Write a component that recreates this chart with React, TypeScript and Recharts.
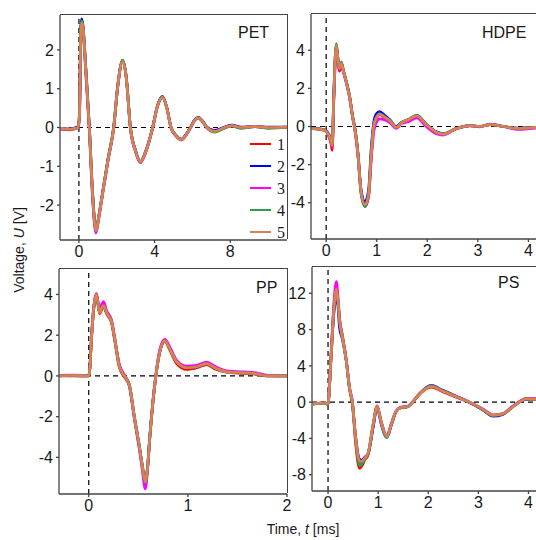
import React from "react";
import { LineChart, Line, XAxis, YAxis, ReferenceLine } from "recharts";

const seriesNames = ["1", "2", "3", "4", "5"];
const seriesColors = ["#ff0000", "#0000ff", "#ff00ff", "#2e9d4b", "#d9814f"];

// PET, time axis in ms
const petT = [-1, -0.5, -0.05, 0.03, 0.1, 0.15, 0.22, 0.35, 0.55, 0.72, 0.9, 1.05, 1.3, 1.55, 1.84, 2.05, 2.31, 2.5, 2.72, 3.0, 3.25, 3.55, 3.9, 4.15, 4.42, 4.65, 4.87, 5.15, 5.42, 5.65, 5.9, 6.1, 6.32, 6.55, 6.76, 7.17, 7.6, 8.05, 8.6, 9.3, 10, 11];
const pet1 = [-0.03, -0.05, 0.0, 0.3, 2.5, 2.72, 2.55, 1.6, 0, -1.7, -2.68, -2.3, -1.55, -0.8, 0, 1.05, 1.72, 1.3, 0, -0.62, -0.9, -0.6, 0, 0.55, 0.78, 0.5, 0, -0.22, -0.32, -0.2, 0, 0.18, 0.25, 0.15, 0, -0.1, -0.02, 0.05, 0.0, 0.03, 0.0, 0.01];
const pet2 = [-0.02, -0.04, 0.02, 0.4, 2.6, 2.8, 2.6, 1.65, 0.05, -1.65, -2.65, -2.28, -1.52, -0.78, 0.02, 1.07, 1.73, 1.32, 0.02, -0.6, -0.87, -0.58, 0.01, 0.56, 0.8, 0.51, 0.01, -0.21, -0.3, -0.19, 0.01, 0.19, 0.26, 0.16, 0.01, -0.08, -0.01, 0.06, 0.01, 0.03, 0.01, 0.01];
const pet3 = [-0.04, -0.06, -0.01, 0.2, 2.3, 2.6, 2.5, 1.5, -0.1, -1.8, -2.72, -2.35, -1.58, -0.83, -0.02, 1.03, 1.7, 1.28, -0.02, -0.64, -0.9, -0.62, -0.02, 0.53, 0.77, 0.49, -0.02, -0.23, -0.32, -0.21, -0.01, 0.17, 0.24, 0.14, -0.01, -0.11, -0.03, 0.04, -0.01, 0.02, -0.01, 0.0];
const pet4 = [-0.02, -0.05, 0.0, 0.35, 2.55, 2.75, 2.58, 1.62, 0.02, -1.68, -2.66, -2.3, -1.54, -0.79, 0.01, 1.06, 1.74, 1.31, 0.01, -0.61, -0.88, -0.6, 0.0, 0.55, 0.79, 0.5, 0.0, -0.22, -0.31, -0.2, 0.0, 0.18, 0.25, 0.15, 0.0, -0.12, -0.04, 0.04, -0.02, 0.02, -0.02, 0.0];
const pet5 = [-0.02, -0.04, 0.0, 0.3, 2.5, 2.7, 2.55, 1.6, 0, -1.7, -2.66, -2.3, -1.55, -0.8, 0, 1.05, 1.7, 1.3, 0, -0.62, -0.88, -0.6, 0, 0.55, 0.78, 0.5, 0, -0.22, -0.31, -0.2, 0, 0.18, 0.25, 0.15, 0, -0.1, -0.02, 0.05, 0.0, 0.03, 0.0, 0.01];

// HDPE
const hdT = [-0.3, -0.1, 0.0, 0.05, 0.1, 0.12, 0.15, 0.2, 0.23, 0.26, 0.3, 0.34, 0.41, 0.46, 0.53, 0.56, 0.63, 0.69, 0.77, 0.84, 0.89, 0.94, 0.99, 1.06, 1.15, 1.26, 1.39, 1.49, 1.62, 1.79, 1.98, 2.18, 2.31, 2.58, 2.84, 3.04, 3.24, 3.51, 3.77, 4.15];
const hd1 = [-0.1, -0.15, -0.25, -0.5, -0.95, -1.25, 1.3, 4.2, 3.5, 2.9, 3.25, 2.85, 2.2, 1.6, 0.4, 0, -1.5, -3.45, -4.12, -3.55, -1.55, -0.05, 0.42, 0.62, 0.48, 0.28, -0.05, 0.2, 0.35, 0.55, 0.1, -0.3, -0.4, -0.1, 0.05, 0.0, 0.1, 0.0, -0.1, -0.05];
const hd2 = [-0.1, -0.14, -0.22, -0.4, -0.75, -0.95, 1.6, 4.3, 3.6, 3.1, 3.35, 2.95, 2.25, 1.65, 0.45, 0.05, -1.4, -3.3, -3.95, -3.3, -1.2, 0.2, 0.65, 0.78, 0.6, 0.35, 0.0, 0.22, 0.35, 0.58, 0.12, -0.28, -0.38, -0.1, 0.05, 0.0, 0.1, 0.0, -0.08, -0.04];
const hd3 = [-0.1, -0.16, -0.26, -0.48, -0.85, -1.05, 1.4, 4.2, 3.55, 3.0, 3.3, 2.9, 2.15, 1.55, 0.35, -0.05, -1.6, -3.5, -4.2, -3.7, -1.8, -0.3, 0.2, 0.4, 0.35, 0.2, -0.1, 0.15, 0.25, 0.45, 0.0, -0.38, -0.45, -0.12, 0.03, -0.02, 0.12, 0.0, -0.15, -0.08];
const hd4 = [-0.1, -0.15, -0.24, -0.44, -0.78, -0.98, 1.55, 4.35, 3.65, 3.1, 3.38, 2.95, 2.2, 1.6, 0.4, 0, -1.5, -3.45, -4.2, -3.55, -1.5, 0.02, 0.45, 0.66, 0.52, 0.32, -0.04, 0.21, 0.36, 0.58, 0.12, -0.3, -0.4, -0.1, 0.05, 0.0, 0.1, 0.0, -0.1, -0.05];
const hd5 = [-0.1, -0.15, -0.25, -0.45, -0.8, -1.0, 1.5, 4.25, 3.6, 3.05, 3.3, 2.9, 2.2, 1.6, 0.4, 0, -1.5, -3.4, -4.1, -3.5, -1.5, 0, 0.45, 0.65, 0.5, 0.3, -0.05, 0.2, 0.35, 0.55, 0.1, -0.3, -0.4, -0.1, 0.05, 0.0, 0.1, 0.0, -0.1, -0.05];

// PP
const ppT = [-0.3, -0.15, 0, 0.01, 0.027, 0.05, 0.077, 0.095, 0.11, 0.13, 0.15, 0.18, 0.23, 0.26, 0.31, 0.36, 0.41, 0.46, 0.515, 0.54, 0.57, 0.595, 0.616, 0.645, 0.677, 0.717, 0.768, 0.82, 0.885, 0.99, 1.09, 1.19, 1.27, 1.39, 1.56, 1.69, 1.79, 2.0];
const pp1 = [0.02, 0.0, 0.01, 0.3, 1.75, 3.25, 3.95, 3.45, 3.05, 3.25, 3.4, 3.05, 2.6, 1.8, 0.4, -0.05, -0.5, -2.05, -3.65, -4.45, -5.3, -4.45, -3.05, -1.45, -0.05, 1.15, 1.7, 1.25, 0.62, 0.32, 0.4, 0.55, 0.35, 0.18, 0.12, 0.08, 0, 0];
const pp2 = [0, 0.01, 0, 0.32, 1.82, 3.32, 4.02, 3.52, 3.12, 3.32, 3.47, 3.12, 2.67, 1.87, 0.47, 0.02, -0.43, -1.98, -3.58, -4.38, -5.2, -4.38, -2.98, -1.38, 0.02, 1.22, 1.74, 1.32, 0.72, 0.42, 0.46, 0.62, 0.42, 0.22, 0.16, 0.1, 0.01, 0];
const pp3 = [0.03, 0.04, 0.02, 0.35, 1.9, 3.4, 4.05, 3.6, 3.2, 3.5, 3.65, 3.2, 2.75, 1.95, 0.55, 0.05, -0.5, -2.1, -3.75, -4.6, -5.55, -4.5, -3.0, -1.35, 0.05, 1.3, 1.8, 1.4, 0.78, 0.48, 0.52, 0.68, 0.48, 0.25, 0.2, 0.15, 0.04, 0.02];
const pp4 = [0, 0.02, 0, 0.3, 1.8, 3.28, 3.98, 3.5, 3.1, 3.3, 3.45, 3.1, 2.65, 1.85, 0.45, 0, -0.46, -2.02, -3.62, -4.42, -5.25, -4.42, -3.02, -1.42, 0, 1.2, 1.72, 1.3, 0.7, 0.4, 0.45, 0.6, 0.4, 0.2, 0.15, 0.1, 0, 0];
const pp5 = [0, 0.02, 0, 0.3, 1.8, 3.3, 4.0, 3.5, 3.1, 3.3, 3.45, 3.1, 2.65, 1.85, 0.45, 0, -0.45, -2.0, -3.6, -4.4, -5.2, -4.4, -3.0, -1.4, 0, 1.2, 1.72, 1.3, 0.7, 0.4, 0.45, 0.6, 0.4, 0.2, 0.15, 0.1, 0, 0];

// PS
const psT = [-0.3, -0.1, 0, 0.01, 0.06, 0.12, 0.166, 0.2, 0.23, 0.285, 0.365, 0.43, 0.485, 0.55, 0.6, 0.63, 0.68, 0.73, 0.8, 0.9, 0.98, 1.06, 1.175, 1.26, 1.36, 1.46, 1.59, 1.69, 1.83, 2.06, 2.29, 2.56, 2.82, 3.09, 3.29, 3.49, 3.69, 3.82, 3.95, 4.15];
const ps1 = [-0.2, -0.1, -0.2, 0.2, 5, 10.6, 12.6, 11.2, 9.2, 7.4, 4.6, 1.4, -0.2, -4.5, -6.8, -7.3, -7.0, -6.4, -5.8, -2.6, -0.5, -2.2, -3.8, -2.5, -1.0, -0.6, -0.5, 0, 0.9, 1.65, 1.15, 0.55, -0.05, -0.85, -1.5, -1.3, -0.45, 0.05, 0.4, 0.35];
const ps2 = [-0.2, -0.1, -0.2, 0.2, 4.8, 10.0, 11.6, 10.5, 8.2, 7.0, 4.5, 1.5, 0, -3.8, -5.8, -6.3, -6.4, -6.1, -5.7, -2.8, -0.6, -2.4, -3.9, -2.6, -1.05, -0.6, -0.5, 0, 0.95, 1.85, 1.3, 0.65, 0.0, -0.85, -1.55, -1.35, -0.5, 0, 0.3, 0.3];
const ps3 = [-0.15, -0.1, -0.15, 0.3, 5.3, 11.2, 13.3, 11.5, 9.2, 7.3, 4.6, 1.6, 0.1, -3.9, -6.1, -6.7, -6.6, -6.2, -5.6, -2.4, -0.4, -2.1, -3.7, -2.4, -0.95, -0.55, -0.45, 0.05, 0.95, 1.8, 1.25, 0.6, 0.0, -0.75, -1.4, -1.25, -0.45, 0.05, 0.4, 0.35];
const ps4 = [-0.2, -0.1, -0.2, 0.2, 5, 10.4, 12.2, 11.0, 9.0, 7.2, 4.5, 1.5, 0, -4.2, -6.4, -7.0, -6.8, -6.3, -5.7, -2.5, -0.5, -2.3, -3.9, -2.5, -1.0, -0.6, -0.5, 0, 0.95, 1.8, 1.25, 0.6, 0, -0.8, -1.45, -1.3, -0.5, 0, 0.35, 0.3];
const ps5 = [-0.2, -0.1, -0.2, 0.2, 5, 10.5, 12.5, 11, 9, 7.2, 4.5, 1.5, 0, -4, -6.0, -6.5, -6.5, -6.2, -5.6, -2.5, -0.5, -2.2, -3.8, -2.5, -1.0, -0.6, -0.5, 0, 0.9, 1.7, 1.2, 0.6, 0, -0.8, -1.45, -1.3, -0.5, 0, 0.35, 0.3];

const FONT = "'Liberation Sans', Arial, sans-serif";
const SERIF = "'Liberation Serif', 'Times New Roman', serif";
const AXIS = "#444";

type Rect = { x0: number; y0: number; x1: number; y1: number };

function toRows(t: number[], series: number[][]) {
  return t.map((x, i) => {
    const row: Record<string, number> = { t: x };
    series.forEach((s, k) => (row["s" + (k + 1)] = s[i]));
    return row;
  });
}

function Panel(props: {
  rows: Record<string, number>[];
  plot: Rect;
  xDomain: [number, number];
  yDomain: [number, number];
  xTicks: number[];
  yTicks: number[];
}) {
  const { rows, plot, xDomain, yDomain, xTicks, yTicks } = props;
  const padL = 50, padT = 5, padR = 6, padB = 30;
  const pw = plot.x1 - plot.x0;
  const ph = plot.y1 - plot.y0;
  const tick = { fill: "#1a1a1a", fontSize: 16, fontFamily: FONT };
  return (
    <div style={{ position: "absolute", left: plot.x0 - padL, top: plot.y0 - padT }}>
      <LineChart
        width={pw + padL + padR}
        height={ph + padT + padB}
        data={rows}
        margin={{ top: padT, right: padR, left: 0, bottom: 0 }}
      >
        <XAxis
          type="number"
          dataKey="t"
          domain={xDomain}
          ticks={xTicks}
          allowDataOverflow
          interval={0}
          height={padB}
          tickSize={3}
          tickMargin={3}
          stroke={AXIS}
          strokeWidth={1.3}
          tick={tick}
        />
        <YAxis
          type="number"
          domain={yDomain}
          ticks={yTicks}
          allowDataOverflow
          interval={0}
          width={padL}
          tickSize={3}
          tickMargin={3}
          stroke={AXIS}
          strokeWidth={1.3}
          tick={tick}
        />
        <ReferenceLine y={0} stroke="#000" strokeWidth={1.2} strokeDasharray="5 4" />
        <ReferenceLine x={0} stroke="#000" strokeWidth={1.2} strokeDasharray="5 4" />
        {seriesNames.map((n, i) => (
          <Line
            key={n}
            name={n}
            dataKey={"s" + (i + 1)}
            type="monotone"
            stroke={seriesColors[i]}
            strokeWidth={2.7}
            dot={false}
            isAnimationActive={false}
          />
        ))}
      </LineChart>
      {/* top and right edges of the frame */}
      <div
        style={{
          position: "absolute",
          left: padL,
          top: padT - 0.6,
          width: pw + 0.6,
          height: ph,
          borderTop: `1.3px solid ${AXIS}`,
          borderRight: `1.3px solid ${AXIS}`,
          boxSizing: "border-box",
          pointerEvents: "none",
        }}
      />
    </div>
  );
}

export default function App() {
  const legendY = [144, 166, 188, 210, 232];
  return (
    <div
      style={{
        position: "absolute",
        left: 0,
        top: 0,
        width: 536,
        height: 540,
        overflow: "hidden",
        background: "#fff",
        fontFamily: FONT,
      }}
    >
      <Panel
        rows={toRows(petT, [pet1, pet2, pet3, pet4, pet5])}
        plot={{ x0: 60, y0: 15, x1: 287, y1: 240 }}
        xDomain={[-1, 11]}
        yDomain={[-2.9, 2.9]}
        xTicks={[0, 4, 8]}
        yTicks={[-2, -1, 0, 1, 2]}
      />
      <Panel
        rows={toRows(hdT, [hd1, hd2, hd3, hd4, hd5])}
        plot={{ x0: 311, y0: 14, x1: 536, y1: 239 }}
        xDomain={[-0.3, 4.15]}
        yDomain={[-5.9, 5.9]}
        xTicks={[0, 1, 2, 3, 4]}
        yTicks={[-4, -2, 0, 2, 4]}
      />
      <Panel
        rows={toRows(ppT, [pp1, pp2, pp3, pp4, pp5])}
        plot={{ x0: 59, y0: 269, x1: 287, y1: 494 }}
        xDomain={[-0.3, 2]}
        yDomain={[-5.8, 5.25]}
        xTicks={[0, 1, 2]}
        yTicks={[-4, -2, 0, 2, 4]}
      />
      <Panel
        rows={toRows(psT, [ps1, ps2, ps3, ps4, ps5])}
        plot={{ x0: 312, y0: 267, x1: 536, y1: 491 }}
        xDomain={[-0.32, 4.15]}
        yDomain={[-9.8, 14.9]}
        xTicks={[0, 1, 2, 3, 4]}
        yTicks={[-8, -4, 0, 4, 8, 12]}
      />
      <svg
        width={536}
        height={540}
        style={{ position: "absolute", left: 0, top: 0, pointerEvents: "none" }}
      >
        <g fontFamily={FONT} fontSize={16} fill="#1a1a1a">
          <text x={238} y={38}>PET</text>
          <text x={482} y={38}>HDPE</text>
          <text x={256} y={293}>PP</text>
          <text x={498} y={288}>PS</text>
        </g>
        {seriesNames.map((n, i) => (
          <g key={n}>
            <line x1={250} x2={271} y1={legendY[i]} y2={legendY[i]} stroke={seriesColors[i]} strokeWidth={2} />
            <text x={277} y={legendY[i] + 5.5} fontFamily={SERIF} fontSize={16} fill="#1a1a1a">
              {n}
            </text>
          </g>
        ))}
        <text
          transform="translate(24 250) rotate(-90)"
          textAnchor="middle"
          fontFamily={FONT}
          fontSize={14}
          fill="#1a1a1a"
        >
          Voltage, <tspan fontStyle="italic">U</tspan> [V]
        </text>
        <text x={303} y={534} textAnchor="middle" fontFamily={FONT} fontSize={14} fill="#1a1a1a">
          Time, <tspan fontStyle="italic">t</tspan> [ms]
        </text>
      </svg>
    </div>
  );
}
